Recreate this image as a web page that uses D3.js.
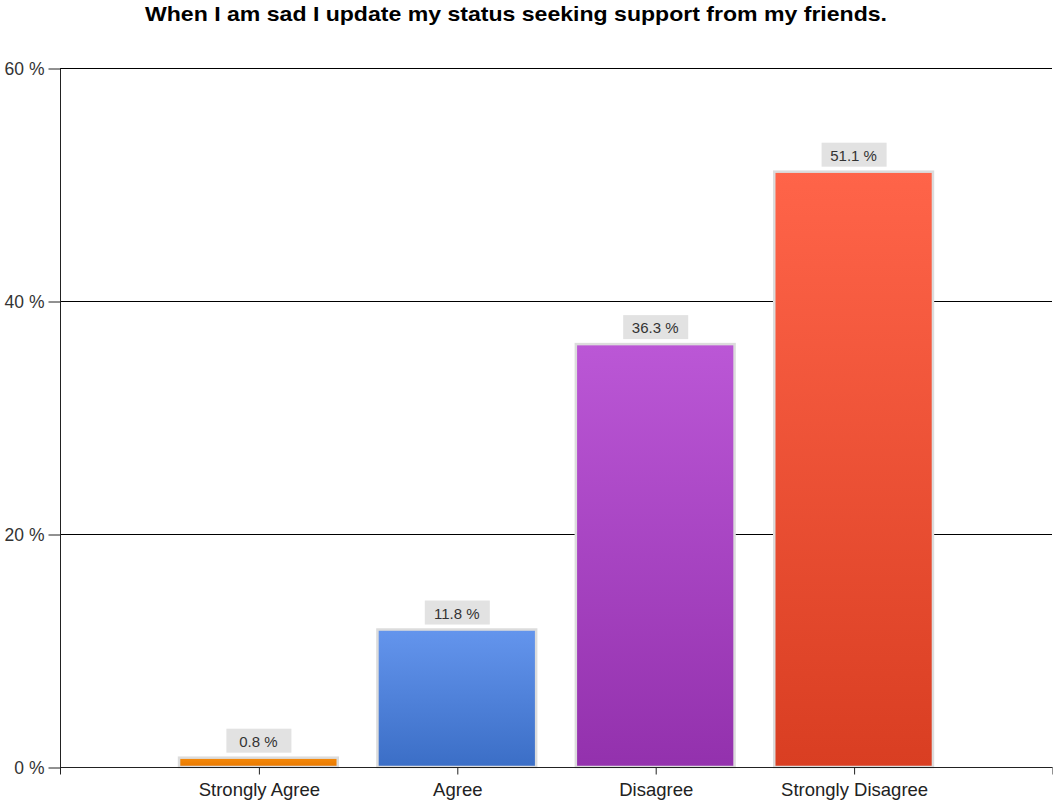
<!DOCTYPE html>
<html>
<head>
<meta charset="utf-8">
<script src="https://cdn.jsdelivr.net/npm/d3@7"></script>
<style>
  body { margin: 0; background: #fff; }
  svg { display: block; font-family: "Liberation Sans", Arial, sans-serif; }
</style>
</head>
<body>
<script>
const title = "When I am sad I update my status seeking support from my friends.";
const categories = ["Strongly Agree", "Agree", "Disagree", "Strongly Disagree"];
const values = [0.8, 11.8, 36.3, 51.1];
const yTicks = [0, 20, 40, 60];
const colorsTop = ["#f58a0a", "#6495ed", "#bb57d6", "#ff6449"];
const colorsBottom = ["#e87800", "#3b6ec6", "#9331ad", "#d93e22"];

const W = 1053, H = 802;
const x0 = 60, x1 = 1052, yTop = 68, yBot = 767;

const svg = d3.select("body").append("svg").attr("width", W).attr("height", H);

const defs = svg.append("defs");
categories.forEach((c, i) => {
  const g = defs.append("linearGradient").attr("id", "g" + i)
    .attr("x1", 0).attr("y1", 0).attr("x2", 0).attr("y2", 1);
  g.append("stop").attr("offset", "0%").attr("stop-color", colorsTop[i]);
  g.append("stop").attr("offset", "100%").attr("stop-color", colorsBottom[i]);
});

const xDomain = ["__start", ...categories, "__end"];
const x = d3.scalePoint().domain(xDomain).range([x0, x1]);
const y = d3.scaleLinear().domain([0, 60]).range([yBot, yTop]);
const barW = x.step() * 0.8;

// title
svg.append("text").attr("x", 516).attr("y", 21).attr("text-anchor", "middle")
  .attr("font-size", 21).attr("font-weight", "bold").attr("fill", "#000")
  .attr("textLength", 742).attr("lengthAdjust", "spacingAndGlyphs").text(title);

// gridlines
svg.append("g").selectAll("line").data(yTicks.filter(d => d > 0)).join("line")
  .attr("x1", x0).attr("x2", x1).attr("y1", d => Math.round(y(d)) + 0.5).attr("y2", d => Math.round(y(d)) + 0.5)
  .attr("stroke", "#000").attr("stroke-width", 1);

// y axis
const yAxis = d3.axisLeft(y).tickValues(yTicks).tickFormat(d => d + " %").tickSize(12).tickPadding(4);
const gy = svg.append("g").attr("transform", `translate(${x0 + 0.5},0.5)`).call(yAxis);
gy.select(".domain").attr("d", `M0,${yTop}V${yBot + 7}`).attr("stroke", "#222");
gy.selectAll(".tick line").attr("stroke", "#222");
gy.selectAll(".tick text").attr("font-size", 17.5).attr("fill", "#333").attr("font-family", "Liberation Sans, Arial, sans-serif");

// bars
svg.append("g").selectAll("rect").data(values).join("rect")
  .attr("x", (d, i) => x(categories[i]) - barW / 2)
  .attr("y", d => y(d))
  .attr("width", barW)
  .attr("height", d => yBot - y(d))
  .attr("fill", (d, i) => `url(#g${i})`)
  .attr("stroke", "#dcdcdc").attr("stroke-width", 2.5);

// x axis
const xAxis = d3.axisBottom(x).tickValues(xDomain.filter((d, i) => i > 0)).tickSize(7).tickPadding(8)
  .tickFormat(d => d === "__end" ? "" : d);
const gx = svg.append("g").attr("transform", `translate(0.5,${yBot + 0.5})`).call(xAxis);
gx.select(".domain").attr("d", `M${x0},0H${x1}`).attr("stroke", "#222");
gx.selectAll(".tick line").attr("stroke", "#222");
gx.selectAll(".tick text").attr("font-size", 18.5).attr("fill", "#222").attr("font-family", "Liberation Sans, Arial, sans-serif");

// data labels
const lab = svg.append("g").selectAll("g").data(values).join("g")
  .attr("transform", (d, i) => `translate(${x(categories[i])},${y(d) - 5})`);
lab.append("rect").attr("x", -32).attr("y", -24).attr("width", 65).attr("height", 24).attr("fill", "#e2e2e2");
lab.append("text").attr("x", 0).attr("y", -6).attr("text-anchor", "middle")
  .attr("font-size", 15).attr("fill", "#333").text(d => d.toFixed(1) + " %");
</script>
</body>
</html>
